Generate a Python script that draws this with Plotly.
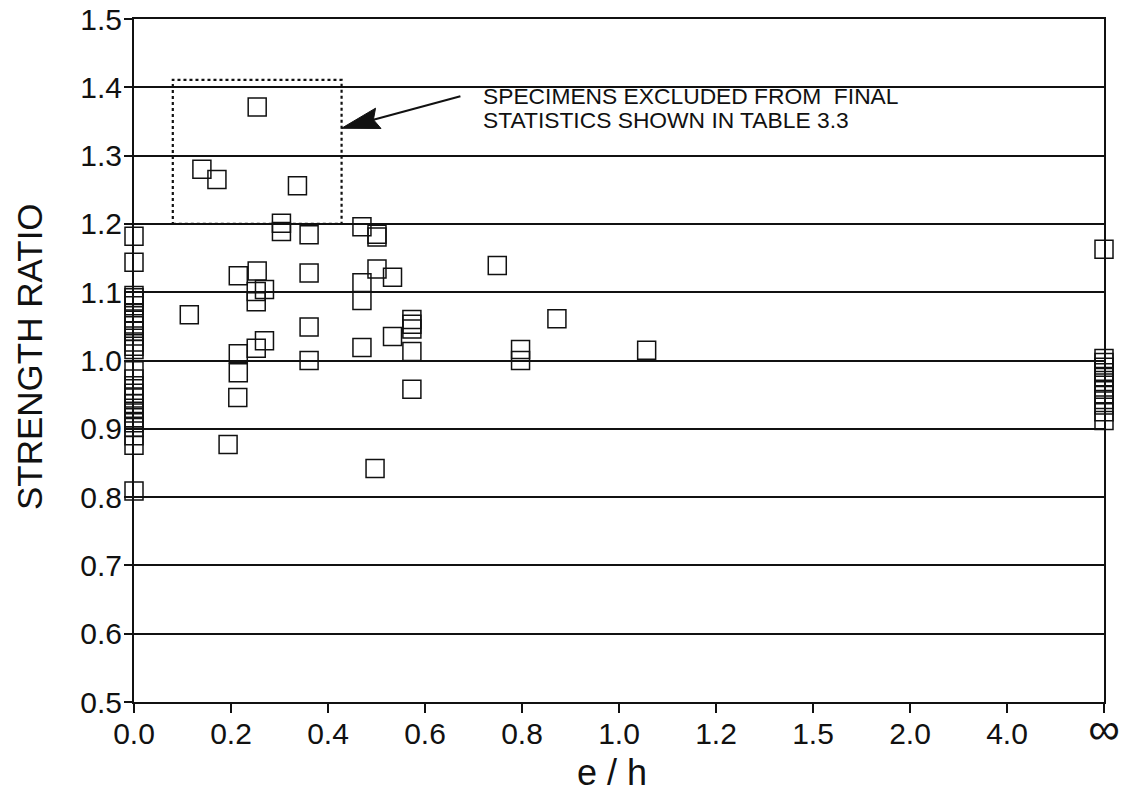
import numpy as np
import plotly.graph_objects as go

# ---------------------------------------------------------------- data
# e/h tick values; the horizontal axis is spaced evenly per tick, not by value
eh_ticks = [0.0, 0.2, 0.4, 0.6, 0.8, 1.0, 1.2, 1.5, 2.0, 4.0, np.inf]
eh_tick_text = ["0.0", "0.2", "0.4", "0.6", "0.8", "1.0", "1.2", "1.5", "2.0", "4.0",
                "<span style='font-size:44px'>∞</span>"]
ratio_ticks = [0.5, 0.6, 0.7, 0.8, 0.9, 1.0, 1.1, 1.2, 1.3, 1.4, 1.5]

# concentric specimens, e/h = 0
ratio_axial = [1.182, 1.144,
               1.095, 1.092, 1.087, 1.080, 1.070, 1.059, 1.051, 1.043, 1.036, 1.027, 1.021, 1.016,
               0.985, 0.973, 0.963, 0.952, 0.945, 0.937, 0.930, 0.923, 0.916, 0.909, 0.902, 0.890, 0.876,
               0.809]

# eccentric specimens
eh_eccentric = [0.114, 0.140, 0.171, 0.194, 0.215, 0.215, 0.215, 0.214,
                0.254, 0.254, 0.252, 0.252, 0.269, 0.252, 0.269,
                0.304, 0.304, 0.337, 0.361, 0.361, 0.361, 0.361,
                0.470, 0.470, 0.470, 0.470, 0.501, 0.501, 0.501, 0.497,
                0.533, 0.533, 0.573, 0.573, 0.573, 0.573, 0.573,
                0.749, 0.797, 0.797, 0.872, 1.057]
ratio_eccentric = [1.067, 1.280, 1.265, 0.877, 1.124, 1.010, 0.982, 0.946,
                   1.371, 1.131, 1.101, 1.086, 1.104, 1.018, 1.029,
                   1.201, 1.189, 1.256, 1.184, 1.128, 1.049, 1.000,
                   1.196, 1.114, 1.088, 1.019, 1.185, 1.181, 1.134, 0.842,
                   1.122, 1.035, 1.060, 1.053, 1.046, 1.013, 0.958,
                   1.139, 1.016, 1.000, 1.061, 1.015]

# flexure specimens, e/h = infinity
ratio_flexure = [1.163, 1.003, 0.997, 0.990, 0.982, 0.975, 0.967, 0.958, 0.950,
                 0.943, 0.935, 0.925, 0.912]

# region holding the specimens left out of the final statistics
excluded_eh = (0.080, 0.428)
excluded_ratio = (1.200, 1.411)
arrow_tip = (0.428, 1.340)
arrow_tail = (0.673, 1.387)
note_eh = 0.715
note_lines = ["SPECIMENS EXCLUDED FROM\u00a0 FINAL", "STATISTICS SHOWN IN TABLE 3.3"]
note_ratio = [1.388, 1.352]

# ---------------------------------------------------------------- layout geometry
W, H = 1124, 795
ML, MR, MT, MB = 134, 20, 19, 93
PW, PH = W - ML - MR, H - MT - MB
N_POS = len(eh_ticks) - 1
Y0, Y1 = ratio_ticks[0], ratio_ticks[-1]

finite_ticks = [t for t in eh_ticks if np.isfinite(t)]


def eh_pos(v):
    """Map e/h onto the tick-spaced axis position."""
    v = np.asarray(v, dtype=float)
    return np.where(np.isinf(v), N_POS, np.interp(v, finite_ticks, np.arange(len(finite_ticks))))


def to_px(u, r):
    return ML + u * PW / N_POS, MT + (Y1 - r) * PH / (Y1 - Y0)


def from_px(px, py):
    return (px - ML) * N_POS / PW, Y1 - (py - MT) * (Y1 - Y0) / PH


FONT = "Liberation Sans, Arial, Helvetica, sans-serif"
INK = "#111111"

marker = dict(symbol="square-open", size=18, color=INK, line=dict(width=1.5, color=INK))

fig = go.Figure()
fig.add_trace(go.Scatter(x=eh_pos(np.zeros(len(ratio_axial))), y=ratio_axial, mode="markers",
                         marker=marker, cliponaxis=False, showlegend=False))
fig.add_trace(go.Scatter(x=eh_pos(eh_eccentric), y=ratio_eccentric, mode="markers",
                         marker=marker, cliponaxis=False, showlegend=False))
fig.add_trace(go.Scatter(x=eh_pos(np.full(len(ratio_flexure), np.inf)), y=ratio_flexure,
                         mode="markers", marker=marker, cliponaxis=False, showlegend=False))

# dotted box around the excluded specimens
bx = eh_pos(list(excluded_eh))
fig.add_shape(type="rect", xref="x", yref="y", x0=float(bx[0]), x1=float(bx[1]),
              y0=excluded_ratio[0], y1=excluded_ratio[1],
              line=dict(color=INK, width=2.2, dash="dot"))

# arrow: shaft plus a long filled head, built in pixel space
tip_px = np.array(to_px(float(eh_pos(arrow_tip[0])), arrow_tip[1]))
tail_px = np.array(to_px(float(eh_pos(arrow_tail[0])), arrow_tail[1]))
d = tail_px - tip_px
d = d / np.linalg.norm(d)
n = np.array([-d[1], d[0]])
head_len, head_half = 38.0, 10.5
base = tip_px + d * head_len
c1 = base + n * head_half
c2 = base - n * head_half
notch = tip_px + d * (head_len - 5)
pts = [from_px(*p) for p in (tip_px, c1, notch, c2)]
path = "M {} Z".format(" L ".join(f"{x:.4f},{y:.4f}" for x, y in pts))
fig.add_shape(type="path", xref="x", yref="y", path=path,
              fillcolor=INK, line=dict(color=INK, width=1))
sx0, sy0 = from_px(*(tip_px + d * (head_len - 6)))
sx1, sy1 = from_px(*tail_px)
fig.add_shape(type="line", xref="x", yref="y", x0=sx0, y0=sy0, x1=sx1, y1=sy1,
              line=dict(color=INK, width=2))

for txt, r in zip(note_lines, note_ratio):
    fig.add_annotation(x=float(eh_pos(note_eh)), y=r, xref="x", yref="y", text=txt,
                       showarrow=False, xanchor="left", yanchor="middle",
                       font=dict(family=FONT, size=22.8, color=INK))

# axis titles
fig.add_annotation(text="STRENGTH RATIO", xref="paper", yref="paper",
                   x=(29 - ML) / PW, y=1 - (357 - MT) / PH, textangle=-90,
                   showarrow=False, xanchor="center", yanchor="middle",
                   font=dict(family=FONT, size=35, color=INK))
fig.add_annotation(text="e / h", xref="paper", yref="paper",
                   x=(612 - ML) / PW, y=1 - (772 - MT) / PH,
                   showarrow=False, xanchor="center", yanchor="middle",
                   font=dict(family=FONT, size=36, color=INK))

fig.update_xaxes(range=[0, N_POS], tickmode="array", tickvals=list(range(N_POS + 1)),
                 ticktext=eh_tick_text, ticks="outside", ticklen=9, tickwidth=2,
                 tickcolor=INK, showgrid=False, zeroline=False, showline=True,
                 linewidth=2, linecolor=INK, mirror=True, ticklabelstandoff=-5,
                 tickfont=dict(family=FONT, size=30, color=INK))
fig.update_yaxes(range=[Y0, Y1], tickmode="array", tickvals=ratio_ticks,
                 ticktext=[f"{t:.1f}" for t in ratio_ticks], ticks="outside", ticklen=8,
                 tickwidth=2, tickcolor=INK, showgrid=True, gridcolor=INK, gridwidth=1.6,
                 zeroline=False, showline=True, linewidth=2, linecolor=INK, mirror=True,
                 ticklabelstandoff=-4,
                 tickfont=dict(family=FONT, size=30, color=INK))

fig.update_layout(width=W, height=H, margin=dict(l=ML, r=MR, t=MT, b=MB, autoexpand=False),
                  paper_bgcolor="white", plot_bgcolor="white", showlegend=False)

fig.write_html("out.html")
